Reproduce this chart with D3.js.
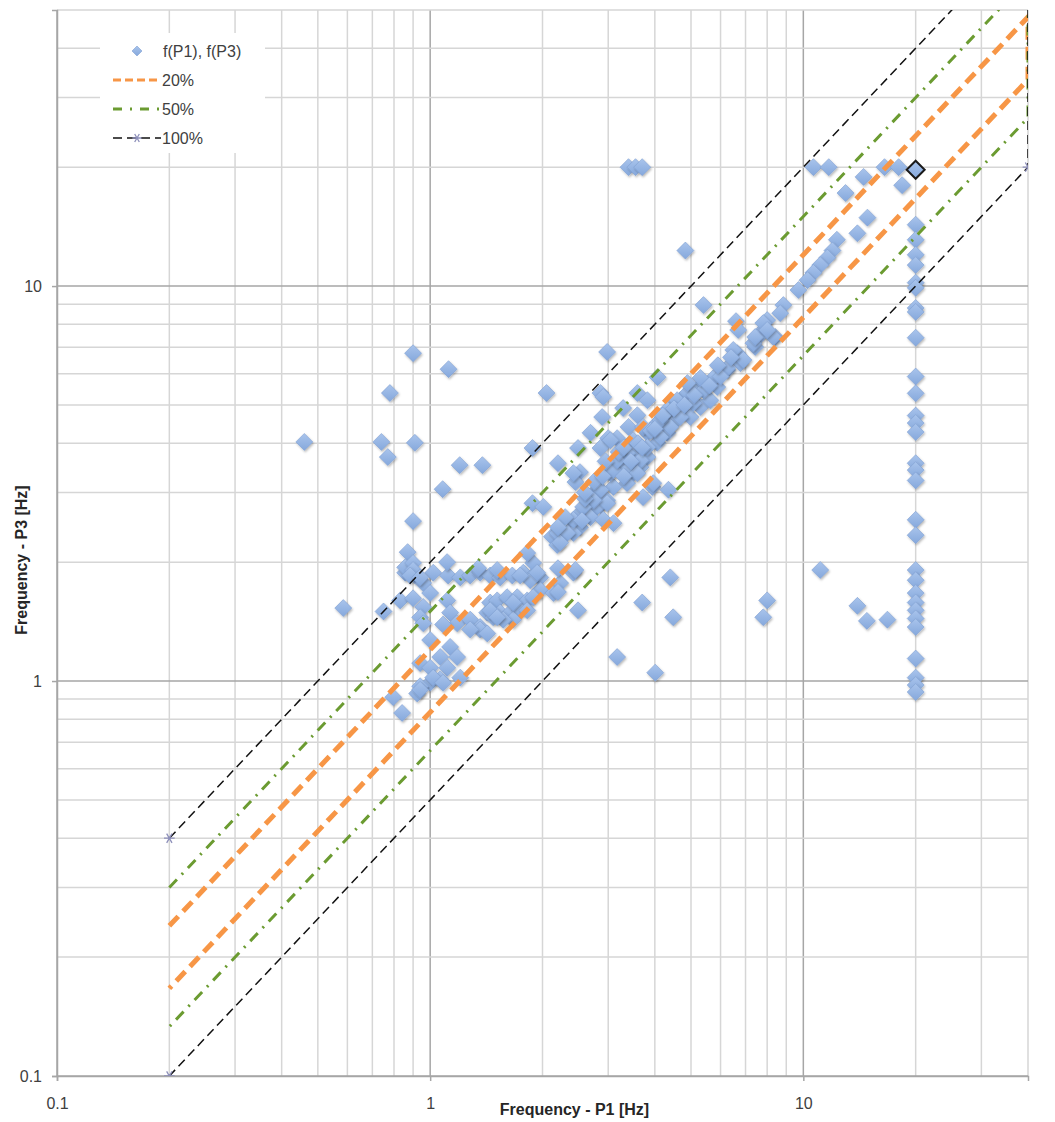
<!DOCTYPE html>
<html>
<head>
<meta charset="utf-8">
<script src="https://cdn.jsdelivr.net/npm/d3@7"></script>
<style>
  body { margin: 0; background: #fff; }
  svg { display: block; font-family: "Liberation Sans", Arial, sans-serif; }
</style>
</head>
<body>
<svg id="chart" width="1055" height="1122"></svg>
<script>
// axis setup
var xDomain = [0.1, 40];
var yDomain = [0.1, 50];
var majorTicks = [0.1, 1, 10];
var majorLabels = ["0.1", "1", "10"];
var xTitle = "Frequency - P1 [Hz]";
var yTitle = "Frequency - P3 [Hz]";

// scatter data f(P1), f(P3)
var outliers = [
  [0.46,4.03],[0.585,1.53],[0.75,1.50],[0.74,4.03],[0.77,3.69],[0.78,5.36],[0.90,6.76],
  [1.12,6.16],[0.91,4.01],[1.20,3.52],[1.38,3.52],[1.08,3.06],[0.90,2.54],[0.87,2.12],
  [2.98,6.81],[2.05,5.36],[1.88,3.89],[3.40,20],[3.55,20],[3.70,20],[4.83,12.3],
  [4.01,1.05],[3.17,1.15],[4.40,1.83],[3.70,1.58],[4.48,1.45],[2.49,1.51],[8.00,1.60],
  [7.81,1.45],[11.1,1.91],[13.96,1.55],[14.8,1.42],[16.8,1.43]
];
var topRight = [
  [10.64,20],[11.7,20],[14.5,18.9],[16.5,20],[18.0,20],[18.4,18.0],[12.97,17.2],
  [14.85,14.9],[13.96,13.6],[12.3,13.1],[11.97,12.3],[11.6,11.8],[11.1,11.3],
  [10.64,10.8],[10.26,10.35],[9.7,9.77]
];
var selectedPoint = [20, 19.7];
var columnP1 = 20;
var columnP3 = [14.3,13.1,12.0,11.3,10.2,9.9,8.8,8.6,7.4,5.9,5.35,4.7,4.5,4.27,3.56,3.42,
  3.22,2.56,2.34,1.91,1.80,1.67,1.58,1.51,1.44,1.37,1.14,1.02,0.977,0.938];
var upperBand = [
  [8.84,8.95],[8.67,8.54],[8.00,8.20],[7.81,7.74],[7.53,7.39],[8.41,7.43],[7.43,7.01],
  [6.65,6.76],[6.78,6.38],[6.25,6.13],[6.6,8.15],[6.69,7.74],[5.40,8.95],[7.35,7.17],
  [6.49,6.89],[6.25,6.20],[5.74,5.85],[5.30,5.85],[4.07,5.88],[4.89,5.68],
  [6.91,6.50],[7.43,7.43],[7.81,8.06],[8.31,7.43],[8.00,7.74],
  [5.6,5.6],[6.0,5.9],[5.9,6.3],[6.4,6.6]
];
var midBand = [
  [2.86,5.36],[2.91,5.24],[3.59,5.36],[3.82,5.14],[3.29,4.91],[3.59,4.71],[2.89,4.66],
  [2.69,4.25],[3.00,4.12],[2.86,3.89],[2.49,3.89],[2.20,3.56],[2.52,3.38],[2.45,3.19],
  [3.40,4.40],[3.50,4.07],[3.82,4.25],[4.06,4.50],[4.32,4.77],[4.48,5.06],[4.68,5.14],
  [4.89,5.36],[5.20,5.45],[5.40,5.68],[5.74,5.78],[4.77,4.77],[4.48,4.50],[4.32,4.25],
  [4.06,4.01],[3.82,3.69],[3.66,3.48],[3.50,3.36],[3.37,3.17],[3.10,3.10],[2.98,2.87],
  [2.80,2.76],[2.69,2.60],[2.52,2.45],[2.42,2.37],[2.19,2.37],[3.94,3.10],[4.35,3.05],
  [3.72,2.92],[3.23,3.56],[3.50,3.78],[3.17,4.12],[3.04,3.36],[2.80,3.05],[1.88,2.82],
  [2.01,2.76],[4.98,4.66],[5.30,4.94],[5.63,5.14],[5.88,5.55],[3.72,4.40],[3.04,4.07],
  [3.37,3.78],[3.82,3.91],[4.14,4.15],[4.40,4.40],[4.68,4.66],[5.07,5.06],[5.40,5.45],
  [4.59,5.14],[4.32,4.86],[4.14,4.58],[3.66,3.62],[3.37,3.42],[3.10,3.42],[3.17,3.62],
  [3.59,3.36],[3.96,3.17],[2.42,3.36],[2.86,3.05],[2.98,2.82],[2.74,2.87],[2.57,2.76],
  [2.91,2.56],[3.10,2.51],[2.42,2.56],[2.33,2.37],[2.23,2.24],
  [2.6,2.9],[2.75,3.2],[2.9,3.3],[3.2,3.8],[3.3,3.9],[3.45,3.6],[3.6,4.0],[3.9,4.3],
  [4.2,4.7],[4.5,4.9],[4.8,5.0],[5.1,5.3],[2.3,2.6],[2.6,3.0],[2.95,3.6],[3.3,3.3],
  [3.7,3.9],[4.0,4.35],[2.2,2.45],[2.55,2.55]
];
var lowBand = [
  [0.857,1.88],[0.912,1.85],[1.019,1.88],[1.117,1.85],[1.204,1.83],[1.28,1.85],[1.361,1.88],
  [1.448,1.85],[1.54,1.83],[1.66,1.85],[1.776,1.88],[1.888,1.85],[1.972,1.83],
  [0.857,1.94],[0.90,1.99],[1.11,2.00],[0.958,1.77],[0.831,1.60],[0.90,1.62],[0.958,1.54],
  [1.0,1.67],[1.111,1.60],[0.94,1.45],[1.131,1.49],[1.181,1.40],[1.28,1.43],[1.361,1.37],
  [1.422,1.49],[1.448,1.58],[1.512,1.60],[1.607,1.63],[1.711,1.63],[1.82,1.60],[1.54,1.49],
  [1.638,1.49],[1.743,1.51],[1.669,1.43],[1.57,1.43],[1.475,1.45],[1.361,1.35],[1.28,1.35],
  [1.972,1.70],[1.854,1.80],[2.14,1.67],[2.23,1.77],[2.42,1.88],[1.0,1.27],[1.131,1.22],
  [1.064,1.15],[1.181,1.15],[0.94,1.11],[1.0,1.08],[1.111,1.08],[1.204,1.02],[1.064,1.01],
  [1.0,0.99],[0.94,0.97],[0.923,0.93],[0.796,0.91],[0.841,0.83],[1.019,1.02],
  [0.90,1.91],[0.884,1.85],[0.94,1.83],[1.345,1.93],[1.512,1.91],[1.743,1.85],[1.888,1.99],
  [1.935,1.88],[1.82,2.11],[2.12,2.32],[2.19,2.21],[2.42,2.53],[2.52,2.66],[2.69,2.71],
  [2.86,2.79],[2.20,1.93],[2.45,1.91],[2.20,1.68],[0.958,1.40],[1.083,1.39],[1.422,1.32],
  [1.448,1.51],[1.669,1.58],[1.512,1.45],[1.82,1.51],[1.888,1.63],[1.083,0.99],[0.94,0.95]
];

// tolerance bands: P1 end points and P3 values (upper line, right edge, lower line)
var bandP1 = [0.2, 40, 40, 0.2];
var band20 = [0.24, 48, 33.33, 0.1667];
var band50 = [0.3, 60, 26.67, 0.1333];
var band100 = [0.4, 80, 20, 0.1];
var bandNames = ["20%", "50%", "100%"];

var plot = { left: 57, right: 1028, top: 10, bottom: 1076 };

var svg = d3.select("#chart");
var x = d3.scaleLog().domain(xDomain).range([plot.left, plot.right]);
var y = d3.scaleLog().domain(yDomain).range([plot.bottom, plot.top]);

var defs = svg.append("defs");
defs.append("clipPath").attr("id", "plotClip")
  .append("rect")
  .attr("x", plot.left).attr("y", plot.top)
  .attr("width", plot.right - plot.left).attr("height", plot.bottom - plot.top);

var grad = defs.append("linearGradient").attr("id", "diamondFill")
  .attr("x1", 0).attr("y1", 0).attr("x2", 0).attr("y2", 1);
grad.append("stop").attr("offset", "0%").attr("stop-color", "#a9c4ec");
grad.append("stop").attr("offset", "100%").attr("stop-color", "#85a8dc");

var shadow = defs.append("filter").attr("id", "shadow")
  .attr("x", "-50%").attr("y", "-50%").attr("width", "200%").attr("height", "200%");
shadow.append("feDropShadow").attr("dx", 1).attr("dy", 1.5)
  .attr("stdDeviation", 1.2).attr("flood-color", "#000").attr("flood-opacity", 0.28);

// grid lines
var gridX = x.ticks();
var gridY = y.ticks();
var grid = svg.append("g");
grid.selectAll(".gx").data(gridX).enter().append("line")
  .attr("x1", function(d){ return x(d); }).attr("x2", function(d){ return x(d); })
  .attr("y1", plot.top).attr("y2", plot.bottom)
  .attr("stroke", function(d){ return majorTicks.indexOf(d) >= 0 ? "#a6a6a6" : "#d6d6d6"; })
  .attr("stroke-width", 1.5);
grid.selectAll(".gy").data(gridY).enter().append("line")
  .attr("y1", function(d){ return y(d); }).attr("y2", function(d){ return y(d); })
  .attr("x1", plot.left).attr("x2", plot.right)
  .attr("stroke", function(d){ return majorTicks.indexOf(d) >= 0 ? "#a6a6a6" : "#d6d6d6"; })
  .attr("stroke-width", 1.5);

// axes
var xAxis = svg.append("g")
  .attr("transform", "translate(0," + plot.bottom + ")")
  .call(d3.axisBottom(x).tickValues(majorTicks)
    .tickFormat(function(d, i){ return majorLabels[i]; })
    .tickSize(5).tickPadding(17));
var yAxis = svg.append("g")
  .attr("transform", "translate(" + plot.left + ",0)")
  .call(d3.axisLeft(y).tickValues(majorTicks)
    .tickFormat(function(d, i){ return majorLabels[i]; })
    .tickSize(5).tickPadding(10));
[xAxis, yAxis].forEach(function(a){
  a.select(".domain").attr("stroke", "#a6a6a6").attr("stroke-width", 1.5);
  a.selectAll(".tick line").attr("stroke", "#a6a6a6").attr("stroke-width", 1.5);
  a.selectAll("text").attr("fill", "#404040").attr("font-size", 16)
    .attr("font-family", "'Liberation Sans', Arial, sans-serif");
});

svg.append("text")
  .attr("x", (plot.left + plot.right) / 2 + 32).attr("y", 1115)
  .attr("text-anchor", "middle").attr("font-size", 16).attr("font-weight", "bold")
  .attr("fill", "#262626").text(xTitle);
svg.append("text")
  .attr("transform", "translate(27," + 560 + ") rotate(-90)")
  .attr("text-anchor", "middle").attr("font-size", 16).attr("font-weight", "bold")
  .attr("fill", "#262626").text(yTitle);

// scatter points
var diamond = function(r){ return "M0," + (-r) + "L" + r + ",0L0," + r + "L" + (-r) + ",0Z"; };
var points = outliers.concat(lowBand, midBand, upperBand, topRight,
  columnP3.map(function(v){ return [columnP1, v]; }));

var dots = svg.append("g").attr("clip-path", "url(#plotClip)");
dots.selectAll("path").data(points).enter().append("path")
  .attr("d", diamond(8.5))
  .attr("transform", function(d){ return "translate(" + x(d[0]) + "," + y(d[1]) + ")"; })
  .attr("fill", "url(#diamondFill)")
  .attr("stroke", "#7f9fd2").attr("stroke-width", 0.6)
  .attr("filter", "url(#shadow)");
dots.append("path")
  .attr("d", diamond(9))
  .attr("transform", "translate(" + x(selectedPoint[0]) + "," + y(selectedPoint[1]) + ")")
  .attr("fill", "url(#diamondFill)")
  .attr("stroke", "#1a1a1a").attr("stroke-width", 2);

// tolerance lines
var bandStyles = [
  { vals: band20, color: "#f79646", width: 5, dash: "13,7" },
  { vals: band50, color: "#6b9b31", width: 3, dash: "11,7,2,7" },
  { vals: band100, color: "#111", width: 1.5, dash: "9,5" }
];
var line = d3.line()
  .x(function(d){ return x(d[0]); })
  .y(function(d){ return y(d[1]); });
var lines = svg.append("g").attr("clip-path", "url(#plotClip)");
bandStyles.forEach(function(s){
  var pts = bandP1.map(function(p, i){ return [p, s.vals[i]]; });
  lines.append("path")
    .attr("d", line(pts))
    .attr("fill", "none")
    .attr("stroke", s.color)
    .attr("stroke-width", s.width)
    .attr("stroke-dasharray", s.dash);
});
// 100% markers
var star = d3.symbol().type(d3.symbolAsterisk).size(80);
lines.selectAll(".mk").data(bandP1.map(function(p, i){ return [p, band100[i]]; }))
  .enter().append("path")
  .attr("d", star)
  .attr("transform", function(d){ return "translate(" + x(d[0]) + "," + y(d[1]) + ") rotate(30)"; })
  .attr("fill", "none").attr("stroke", "#8d8fba").attr("stroke-width", 1.3);

// legend
var legend = svg.append("g");
legend.append("rect").attr("x", 100).attr("y", 33).attr("width", 165).attr("height", 120)
  .attr("fill", "#fff");
var legendRows = [51, 80, 109, 138];
legend.append("path").attr("d", diamond(5))
  .attr("transform", "translate(137," + legendRows[0] + ")")
  .attr("fill", "url(#diamondFill)").attr("stroke", "#7f9fd2").attr("stroke-width", 0.6);
legend.append("text").attr("x", 163).attr("y", legendRows[0]).attr("dy", "0.35em")
  .attr("font-size", 16).attr("fill", "#404040").text("f(P1), f(P3)");
bandStyles.forEach(function(s, i){
  var yy = legendRows[i + 1];
  legend.append("line").attr("x1", 113).attr("x2", 161).attr("y1", yy).attr("y2", yy)
    .attr("stroke", s.color).attr("stroke-width", Math.min(s.width, 3))
    .attr("stroke-dasharray", i === 0 ? "8,4" : (i === 1 ? "9,8,2,8" : "9,5"));
  legend.append("text").attr("x", 162).attr("y", yy).attr("dy", "0.35em")
    .attr("font-size", 16).attr("fill", "#404040").text(bandNames[i]);
});
legend.append("path").attr("d", d3.symbol().type(d3.symbolAsterisk).size(60))
  .attr("transform", "translate(137," + legendRows[3] + ") rotate(30)")
  .attr("fill", "none").attr("stroke", "#8d8fba").attr("stroke-width", 1.3);
</script>
</body>
</html>
